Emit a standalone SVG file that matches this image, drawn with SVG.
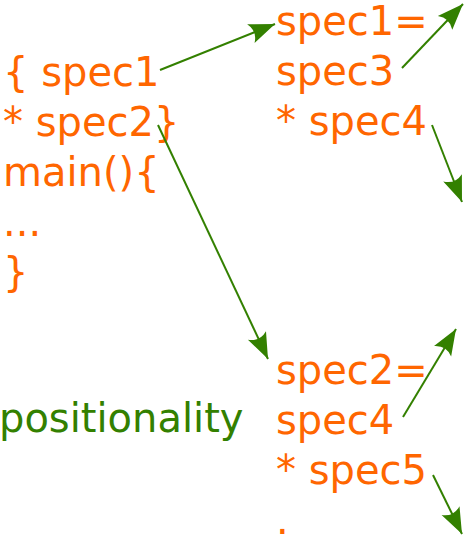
<svg xmlns="http://www.w3.org/2000/svg" width="466" height="538" viewBox="0 0 466 538">
<style>
.t{font-family:"DejaVu Sans",sans-serif;font-size:40px;fill:#ff6600}
.g{font-family:"DejaVu Sans",sans-serif;font-size:40px;fill:#338000}
.c{stroke:#338000;stroke-width:2;fill:none;marker-end:url(#ah)}
</style>
<defs>
<marker id="ah" markerUnits="userSpaceOnUse" markerWidth="30" markerHeight="24" viewBox="-27 -12 30 24" refX="0" refY="0" orient="auto">
<path d="M0,0 L-26,-10 Q-19,0 -26,10 Z" fill="#338000"/>
</marker>
</defs>
<rect width="466" height="538" fill="#ffffff"/>
<g id="left">
<text class="t" x="3" y="86">{ spec1</text>
<text class="t" x="3" y="136">* spec2}</text>
<text class="t" x="3" y="186">main(){</text>
<text class="t" x="3" y="236">...</text>
<text class="t" x="3" y="286">}</text>
</g>
<g id="spec1">
<text class="t" x="276" y="35">spec1=</text>
<text class="t" x="276" y="85">spec3</text>
<text class="t" x="276" y="135">* spec4</text>
</g>
<g id="spec2">
<text class="t" x="276" y="384">spec2=</text>
<text class="t" x="276" y="434">spec4</text>
<text class="t" x="276" y="484">* spec5</text>
<text class="t" x="276" y="534">.</text>
</g>
<g id="positionality">
<text class="g" x="-1" y="432">positionality</text>
</g>
<g id="connectors">
<line class="c" x1="160" y1="70" x2="275" y2="24"/>
<line class="c" x1="402" y1="68" x2="463" y2="4"/>
<line class="c" x1="432" y1="125" x2="462" y2="202"/>
<line class="c" x1="158" y1="125" x2="268" y2="359"/>
<line class="c" x1="403" y1="417" x2="456" y2="329"/>
<line class="c" x1="433" y1="475" x2="462" y2="534"/>
</g>
</svg>
